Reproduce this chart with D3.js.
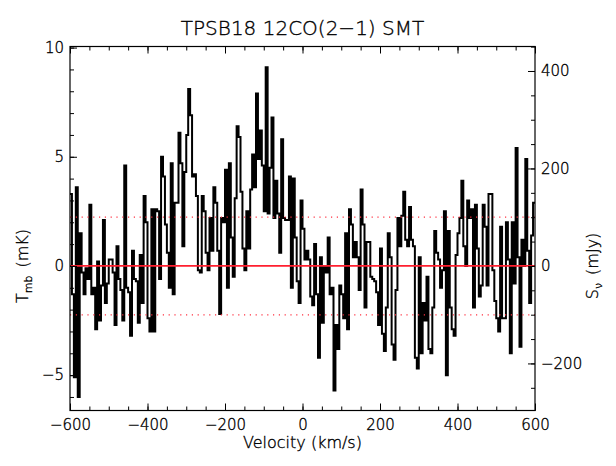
<!DOCTYPE html>
<html>
<head>
<meta charset="utf-8">
<script src="https://cdn.jsdelivr.net/npm/d3@7"></script>
<style>
  body { margin: 0; background: #fff; }
  svg { display: block; }
  svg text { font-family: "DejaVu Sans", sans-serif; font-weight: 200; fill: #000; stroke: #000; stroke-width: 0.35; }
  .lbl { font-size: 15px; }
</style>
</head>
<body>
<div id="chart-area"></div>
<script>
// spectrum values (mK), one per 5 km/s channel
const VEL_START = -600
const CHAN_WIDTH = 5
const tmb = [
  3.3, -1.3, -5.1, 3.6, -6.0, 1.5, -0.3, -1.3, -0.1, -0.6,
  2.8, -1.3, -1.0, -2.9, 0.2, -2.5, -0.9, 2.1, -1.7, -0.8,
  0.3, 0.3, -0.3, -2.7, 0.9, -0.6, -1.1, -2.5, 4.6, -1.0,
  -1.2, -3.2, 0.7, -0.6, -0.7, -2.6, 0.5, -1.7, 3.2, 2.0,
  -2.4, -3.0, 2.6, -3.0, 2.6, 2.5, -0.6, 5.0, 4.1, 1.9,
  0.6, -1.0, 4.7, -1.3, 2.9, 2.9, 6.1, 4.7, 0.9, 4.3,
  6.0, 8.1, 6.9, 4.1, 4.2, 3.2, -0.2, -0.3, 3.2, 2.5,
  0.6, -0.2, 2.2, 0.7, 3.6, 2.9, 0.7, -2.2, 2.2, 2.0,
  4.4, -1.0, 4.7, 1.3, -0.5, 3.1, 6.4, 5.9, 3.4, 0.8,
  -0.2, 2.5, 0.8, 3.5, 5.1, 3.6, 7.9, 4.9, 6.2, 4.6,
  2.5, 9.1, 2.4, 4.5, 6.8, 2.2, 3.9, 2.4, 0.6, 5.8,
  2.2, 2.1, 2.1, 4.1, -1.0, 4.0, 1.3, -0.7, -1.7, 3.0,
  1.7, 0.3, 0.7, 0.3, -1.4, -1.8, 1.0, -1.3, -4.2, 0.4,
  -2.6, 0.0, -0.3, 1.3, -1.3, -1.0, -5.7, -2.7, -3.8, -0.9,
  -1.3, -2.4, 1.5, -2.9, 2.6, 1.9, 0.4, 1.1, 0.4, -1.1,
  3.5, 1.9, -1.9, 1.1, 1.1, -0.5, -0.6, -0.7, -1.2, -2.7,
  0.8, -3.1, -3.9, -1.9, 1.5, 0.4, -3.6, -4.3, -1.1, 2.2,
  0.9, 2.3, 3.4, 1.2, 0.9, 2.7, 1.2, 0.9, -4.2, -4.7,
  0.4, -4.0, -1.7, -2.5, -0.5, -3.8, -4.0, -1.9, 1.6, 0.6,
  0.3, -1.0, -0.2, 2.5, -5.0, 1.6, -1.9, -2.9, -3.2, 0.5,
  1.5, 2.2, 3.9, 0.9, 0.0, 3.0, 2.2, 2.6, -1.9, 2.8,
  0.8, -1.4, -0.9, 2.8, 1.8, -0.9, 3.3, 3.3, -0.2, -1.6,
  -2.4, -3.0, 1.8, -2.4, -2.4, 2.0, 0.3, -4.0, 2.0, -0.8,
  5.4, 0.4, -3.7, 1.2, 0.0, 4.9, 0.7, -1.7, 1.4, 2.9
]

const xTicks = [-600, -400, -200, 0, 200, 400, 600]
const yTicks = [-5, 0, 5, 10]
const sTicks = [-200, 0, 200, 400]
const RMS = 2.24          // mK, dotted lines
const MJY_PER_MK = 44.8   // right axis conversion

const MARGIN = { LEFT: 70, RIGHT: 81, TOP: 46.5, BOTTOM: 55.5 }
const WIDTH = 616 - MARGIN.LEFT - MARGIN.RIGHT
const HEIGHT = 466 - MARGIN.TOP - MARGIN.BOTTOM

const svg = d3.select('#chart-area')
  .append('svg')
  .attr('width', 616)
  .attr('height', 466)

svg.append('rect').attr('width', 616).attr('height', 466).attr('fill', '#fff')

const g = svg.append('g')
  .attr('transform', `translate(${MARGIN.LEFT}, ${MARGIN.TOP})`)

const x = d3.scaleLinear().domain([-600, 600]).range([0, WIDTH])
const y = d3.scaleLinear().domain([-6.62, 10.05]).range([HEIGHT, 0])
const yS = d3.scaleLinear()
  .domain(y.domain().map(d => d * MJY_PER_MK))
  .range([HEIGHT, 0])

// spectrum as histogram steps
const pts = tmb.map((t, i) => [VEL_START + i * CHAN_WIDTH, t])
pts.push([VEL_START + tmb.length * CHAN_WIDTH, tmb[tmb.length - 1]])

g.append('path')
  .datum(pts)
  .attr('fill', 'none')
  .attr('stroke', '#000')
  .attr('stroke-width', 2)
  .attr('d', d3.line()
    .x(d => x(d[0]))
    .y(d => y(d[1]))
    .curve(d3.curveStepAfter))

// zero line and +-rms
g.append('line')
  .attr('x1', 0).attr('x2', WIDTH)
  .attr('y1', y(0)).attr('y2', y(0))
  .attr('stroke', '#ff1f2f')
  .attr('stroke-width', 1.8)

;[RMS, -RMS].forEach(v => {
  g.append('line')
    .attr('x1', 0).attr('x2', WIDTH)
    .attr('y1', y(v)).attr('y2', y(v))
    .attr('stroke', '#ff3040')
    .attr('stroke-width', 1.2)
    .attr('stroke-dasharray', '1.2,4.6')
})

// frame
g.append('rect')
  .attr('width', WIDTH).attr('height', HEIGHT)
  .attr('fill', 'none')
  .attr('stroke', '#000')
  .attr('stroke-width', 1.2)

function styleAxis(sel) {
  sel.attr('font-family', null).attr('font-size', null)
  sel.select('.domain').remove()
  sel.selectAll('line').attr('stroke', '#000').attr('stroke-width', 1)
  sel.selectAll('text').attr('class', 'lbl')
}

const fmt = d => d < 0 ? '\u2212' + Math.abs(d) : String(d)

// bottom
g.append('g').attr('transform', `translate(0,${HEIGHT})`)
  .call(d3.axisBottom(x).tickValues(d3.range(-600, 601, 50)).tickSize(-4).tickFormat(''))
  .call(styleAxis)
g.append('g').attr('transform', `translate(0,${HEIGHT})`)
  .call(d3.axisBottom(x).tickValues(xTicks).tickSize(-7).tickPadding(9).tickFormat(fmt))
  .call(styleAxis)

// top
g.append('g')
  .call(d3.axisTop(x).tickValues(d3.range(-600, 601, 50)).tickSize(-4).tickFormat(''))
  .call(styleAxis)
g.append('g')
  .call(d3.axisTop(x).tickValues(xTicks).tickSize(-7).tickFormat(''))
  .call(styleAxis)

// left
g.append('g')
  .call(d3.axisLeft(y).tickValues(d3.range(-6, 11, 1)).tickSize(-4).tickFormat(''))
  .call(styleAxis)
g.append('g')
  .call(d3.axisLeft(y).tickValues(yTicks).tickSize(-7).tickPadding(6).tickFormat(fmt))
  .call(styleAxis)

// right (mJy)
g.append('g').attr('transform', `translate(${WIDTH},0)`)
  .call(d3.axisRight(yS).tickValues(d3.range(-250, 451, 50)).tickSize(-4).tickFormat(''))
  .call(styleAxis)
g.append('g').attr('transform', `translate(${WIDTH},0)`)
  .call(d3.axisRight(yS).tickValues(sTicks).tickSize(-7).tickPadding(6).tickFormat(fmt))
  .call(styleAxis)

// titles
svg.append('text')
  .attr('x', MARGIN.LEFT + WIDTH / 2).attr('y', 35)
  .attr('text-anchor', 'middle')
  .style('font-size', '20px')
  .text('TPSB18 12CO(2\u22121) SMT')

svg.append('text')
  .attr('x', MARGIN.LEFT + WIDTH / 2).attr('y', 448)
  .attr('text-anchor', 'middle')
  .style('font-size', '16px')
  .text('Velocity (km/s)')

const yl = svg.append('text')
  .attr('transform', `translate(28,${MARGIN.TOP + y(0)}) rotate(-90)`)
  .attr('text-anchor', 'middle')
  .style('font-size', '16px')
yl.append('tspan').text('T')
yl.append('tspan').attr('dy', 4).style('font-size', '11px').text('mb')
yl.append('tspan').attr('dy', -4).text('\u2002(mK)')

const sl = svg.append('text')
  .attr('transform', `translate(598,${MARGIN.TOP + y(0)}) rotate(-90)`)
  .attr('text-anchor', 'middle')
  .style('font-size', '16px')
sl.append('tspan').text('S')
sl.append('tspan').attr('dy', 4).style('font-size', '11px').text('\u03bd')
sl.append('tspan').attr('dy', -4).text('\u2002(mJy)')
</script>
</body>
</html>
